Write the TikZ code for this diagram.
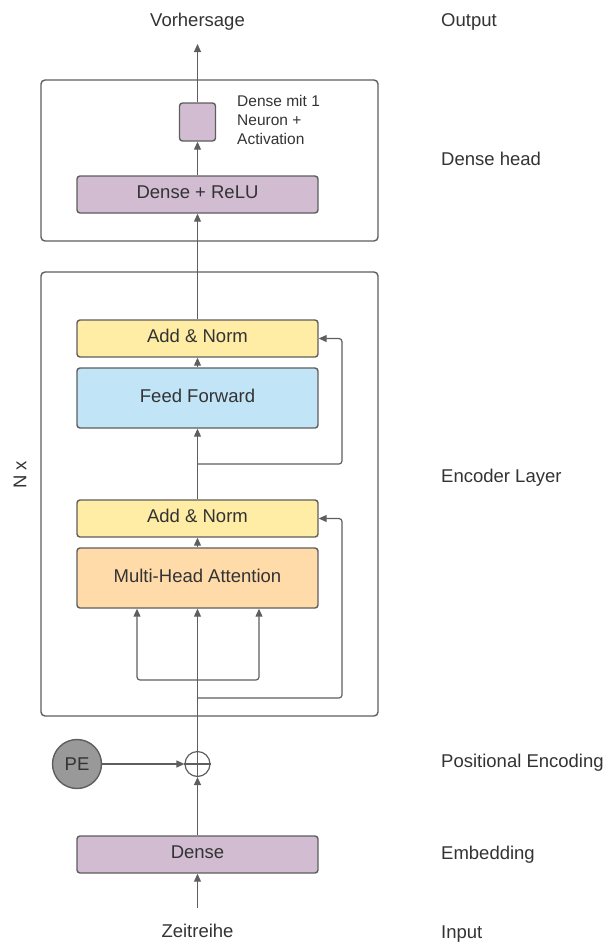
\documentclass[tikz,border=0pt]{standalone}
\usepackage{fontspec}
\setmainfont{Liberation Sans}
\usetikzlibrary{arrows.meta,calc}
\definecolor{ln}{HTML}{5E5E5E}
\definecolor{tx}{HTML}{333333}
\definecolor{cpurple}{HTML}{D1BCD2}
\definecolor{cyellow}{HTML}{FFEDA5}
\definecolor{cblue}{HTML}{C1E4F7}
\definecolor{corange}{HTML}{FFDBA9}
\definecolor{cgray}{HTML}{999999}
\tikzset{
  box/.style={draw=ln, line width=1.4pt, rounded corners=3pt, minimum width=241pt, inner sep=0pt, text=tx, font=\fontsize{18.5}{22}\selectfont, text height=12.4pt, text depth=4pt},
  frame/.style={draw=ln, line width=1.4pt, rounded corners=4pt, inner sep=0pt},
  arr/.style={draw=ln, line width=1.2pt, -{Triangle[length=8pt,width=7pt]}},
  lbl/.style={text=tx, font=\fontsize{18.5}{22}\selectfont, inner sep=0pt, anchor=base},
  slbl/.style={text=tx, font=\fontsize{15.5}{19}\selectfont, inner sep=0pt, align=left}
}
\begin{document}
\begin{tikzpicture}[x=1pt,y=-1pt]
\useasboundingbox (0,0) rectangle (605,943);
% frames
\node[frame, minimum width=337pt, minimum height=161pt] (dhead) at (209.5,160.5) {};
\node[frame, minimum width=337pt, minimum height=444pt] (enc) at (209.5,494) {};
% boxes
\node[box, fill=cpurple, minimum width=36pt, minimum height=38pt] (small) at (197.5,122) {};
\node[box, fill=cpurple, minimum height=37pt] (relu) at (197.5,194.5) {Dense + ReLU};
\node[box, fill=cyellow, minimum height=37pt] (an1) at (197.5,338.5) {Add \& Norm};
\node[box, fill=cblue, minimum height=60pt] (ff) at (197.5,398) {Feed Forward};
\node[box, fill=cyellow, minimum height=37pt] (an2) at (197.5,518.5) {Add \& Norm};
\node[box, fill=corange, minimum height=60pt] (mha) at (197.5,578) {Multi-Head Attention};
\node[box, fill=cpurple, minimum height=37pt] (dense) at (197.5,854.5) {Dense};
\node[draw=ln, line width=1.4pt, fill=cgray, circle, minimum size=49pt, inner sep=0pt, text=tx, font=\fontsize{18.5}{22}\selectfont] (pe) at (77,764) {PE};
\node[draw=ln, line width=1.2pt, circle, minimum size=25pt, inner sep=0pt] (plus) at (197.5,764) {};
\draw[ln, line width=1.2pt] (plus.north) -- (plus.south) (plus.west) -- (plus.east);
% texts
\node[lbl] (vh) at (197.5,26) {Vorhersage};
\node[lbl] (zr) at (197.5,937.5) {Zeitreihe};
\node[slbl, anchor=west] (dmt) at (237,120) {Dense mit 1\\Neuron +\\Activation};
\node[lbl, anchor=base west] (lo) at (441,26) {Output};
\node[lbl, anchor=base west] (ld) at (441,165) {Dense head};
\node[lbl, anchor=base west] (le) at (441,482) {Encoder Layer};
\node[lbl, anchor=base west] (lp) at (441,767) {Positional Encoding};
\node[lbl, anchor=base west] (lem) at (441,859) {Embedding};
\node[lbl, anchor=base west] (li) at (441,938) {Input};
\node[text=tx, font=\fontsize{18.5}{22}\selectfont, inner sep=0pt, rotate=90] (nx) at (20,475) {N x};
% coordinates
\coordinate (vtip) at (197.5,44);
\coordinate (inbot) at (197.5,908);
\coordinate (b1) at (197.5,464);
\coordinate (rr1) at (342,338.5);
\coordinate (b2) at (197.5,698);
\coordinate (rr2) at (342,518.5);
\coordinate (split) at (197.5,680);
% connectors
\draw[arr] (small.north) -- (vtip);
\draw[arr] (relu.north) -- (small.south);
\draw[arr] (an1.north) -- (relu.south);
\draw[arr] (ff.north) -- (an1.south);
\draw[arr] (an2.north) -- (ff.south);
\draw[arr, rounded corners=3pt] (b1) -| (rr1) -- (an1.east);
\draw[arr] (mha.north) -- (an2.south);
\draw[arr, rounded corners=3pt] (b2) -| (rr2) -- (an2.east);
\draw[arr, rounded corners=3pt] (split) -| ([xshift=-60.5pt]mha.south);
\draw[arr, rounded corners=3pt] (split) -| ([xshift=61.5pt]mha.south);
\draw[arr] (plus.north) -- (mha.south);
\draw[arr] (pe.east) -- (plus.west);
\draw[arr] (dense.north) -- (plus.south);
\draw[arr] (inbot) -- (dense.south);
\end{tikzpicture}
\end{document}
